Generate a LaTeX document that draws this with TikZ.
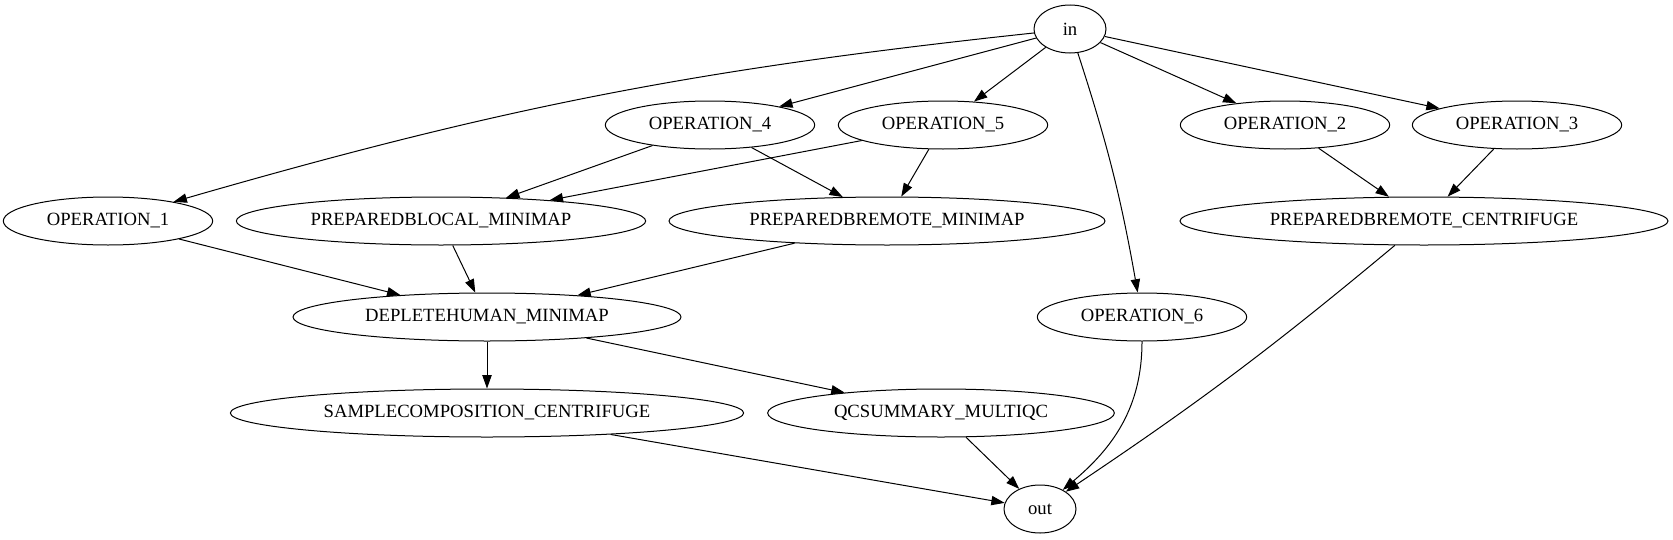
\documentclass[tikz,border=0pt]{standalone}
\usepackage{fontspec}
\setmainfont{Liberation Serif}
\usetikzlibrary{shapes.geometric,arrows.meta}
\begin{document}
\begin{tikzpicture}[x=0.75pt,y=-0.75pt,
    proc/.style={draw, ellipse, inner sep=0pt, minimum height=36pt, line width=0.75pt, font=\fontsize{14}{16}\selectfont},
    link/.style={-{Triangle[length=10pt,width=7pt]}, line width=0.75pt}]
       \useasboundingbox (0,0) rectangle (1673,539);
       \node[proc, minimum width=54pt] (in) at (1070,29) {in};
       \node[proc, minimum width=157pt] (op4) at (710,125) {OPERATION\_4};
       \node[proc, minimum width=157pt] (op5) at (943,125) {OPERATION\_5};
       \node[proc, minimum width=157pt] (op2) at (1285,125) {OPERATION\_2};
       \node[proc, minimum width=157pt] (op3) at (1517,125) {OPERATION\_3};
       \node[proc, minimum width=157pt] (op1) at (108,221) {OPERATION\_1};
       \node[proc, minimum width=307pt] (blocal) at (441,221) {PREPAREDBLOCAL\_MINIMAP};
       \node[proc, minimum width=327pt] (bremmap) at (887,221) {PREPAREDBREMOTE\_MINIMAP};
       \node[proc, minimum width=366pt] (bremcen) at (1424,221) {PREPAREDBREMOTE\_CENTRIFUGE};
       \node[proc, minimum width=291pt] (deplete) at (487,317) {DEPLETEHUMAN\_MINIMAP};
       \node[proc, minimum width=157pt] (op6) at (1142,317) {OPERATION\_6};
       \node[proc, minimum width=385pt] (sample) at (487,413) {SAMPLECOMPOSITION\_CENTRIFUGE};
       \node[proc, minimum width=260pt] (qc) at (941,413) {QCSUMMARY\_MULTIQC};
       \node[proc, minimum width=54pt] (out) at (1040,509) {out};

       \draw[link] (in) to[bend right=5] (op1);
       \draw[link] (in) -- (op4); \draw[link] (in) -- (op5);
       \draw[link] (in) -- (op2); \draw[link] (in) -- (op3);
       \draw[link] (in) to[bend left=4] (op6);
       \draw[link] (op4) -- (blocal); \draw[link] (op4) -- (bremmap);
       \draw[link] (op5) -- (blocal); \draw[link] (op5) -- (bremmap);
       \draw[link] (op2) -- (bremcen); \draw[link] (op3) -- (bremcen);
       \draw[link] (op1) -- (deplete); \draw[link] (blocal) -- (deplete); \draw[link] (bremmap) -- (deplete);
       \draw[link] (deplete) -- (sample); \draw[link] (deplete) -- (qc);
       \draw[link] (sample) -- (out); \draw[link] (qc) -- (out);
       \draw[link] (op6.south) to[out=-90,in=40] (out);
       \draw[link] (bremcen) to[bend left=3] (out);
      \end{tikzpicture}
\end{document}
